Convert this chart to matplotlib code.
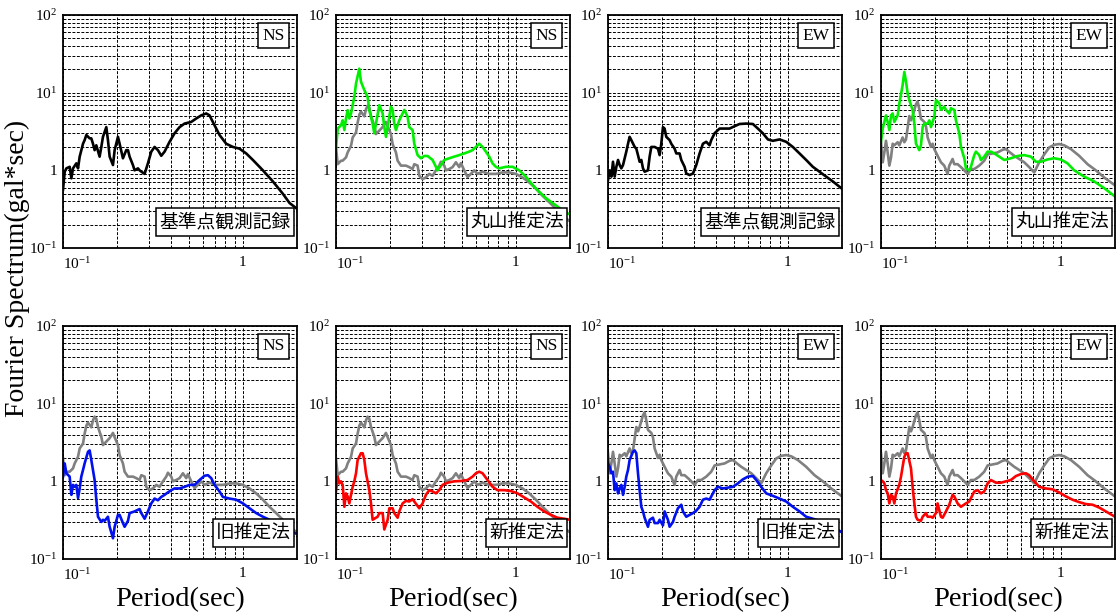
import matplotlib
matplotlib.use('Agg')
import matplotlib.pyplot as plt
from matplotlib.ticker import LogLocator, NullFormatter

plt.rcParams['font.family'] = ['Liberation Serif', 'DejaVu Serif']
plt.rcParams['mathtext.fontset'] = 'custom'
plt.rcParams['mathtext.rm'] = 'Liberation Serif'
plt.rcParams['mathtext.it'] = 'Liberation Serif:italic'
plt.rcParams['mathtext.bf'] = 'Liberation Serif:bold'

# ---------------- data (period [sec], Fourier spectrum [gal*sec]) ----------------
rec_ns_T = [0.1000, 0.1022, 0.1044, 0.1089, 0.1113, 0.1137, 0.1186, 0.1212, 0.1238, 0.1292,
            0.1319, 0.1348, 0.1407, 0.1437, 0.1468, 0.1499, 0.1532, 0.1598, 0.1633, 0.1668,
            0.1741, 0.1778, 0.1817, 0.1896, 0.1937, 0.2021, 0.2064, 0.2154, 0.2248, 0.2297,
            0.2346, 0.2448, 0.2501, 0.2610, 0.2666, 0.2783, 0.2843, 0.2966, 0.3096, 0.3230,
            0.3371, 0.3518, 0.3671, 0.3914, 0.4172, 0.4448, 0.4742, 0.5164, 0.5505, 0.5868,
            0.6256, 0.6529, 0.6960, 0.7419, 0.8080, 0.8799, 0.9583, 1.044, 1.137, 1.292,
            1.468, 1.668, 1.817, 2.0]
rec_ns_A = [0.56, 0.96, 1.06, 1.11, 0.79, 1.06, 1.23, 1.06, 1.5, 2.2,
            2.45, 2.85, 2.58, 2.58, 2.2, 1.82, 2.1, 1.5, 2.0, 2.7,
            3.6, 2.45, 1.5, 1.17, 1.82, 2.7, 2.2, 1.43, 1.82, 1.82,
            1.5, 1.17, 1.0, 1.06, 1.0, 0.93, 0.9, 1.23, 1.74, 2.0,
            1.82, 1.54, 1.74, 2.33, 3.0, 3.6, 4.0, 4.2, 4.65, 5.1,
            5.4, 5.1, 3.8, 2.85, 2.2, 2.0, 1.9, 1.65, 1.36, 1.0,
            0.72, 0.5, 0.38, 0.32]

rec_ew_T = [0.1000, 0.1022, 0.1044, 0.1066, 0.1089, 0.1113, 0.1137, 0.1161, 0.1186, 0.1212,
            0.1264, 0.1292, 0.1319, 0.1348, 0.1407, 0.1437, 0.1468, 0.1499, 0.1532, 0.1565,
            0.1598, 0.1668, 0.1704, 0.1741, 0.1817, 0.1896, 0.1937, 0.1978, 0.2021, 0.2064,
            0.2109, 0.2201, 0.2248, 0.2346, 0.2397, 0.2501, 0.2555, 0.2666, 0.2724, 0.2843,
            0.2966, 0.3096, 0.3230, 0.3371, 0.3518, 0.3671, 0.3750, 0.3914, 0.4172, 0.4448,
            0.4742, 0.5055, 0.5389, 0.5868, 0.6391, 0.6813, 0.7263, 0.7743, 0.8254, 0.8989,
            0.9789, 1.066, 1.161, 1.264, 1.377, 1.499, 1.633, 1.778, 2.0]
rec_ew_A = [0.75, 1.0, 0.83, 1.29, 0.83, 1.11, 1.36, 1.17, 1.06, 1.17,
            1.74, 2.2, 2.7, 2.45, 2.0, 1.9, 1.57, 1.29, 1.36, 1.06,
            0.96, 1.0, 1.5, 2.0, 2.0, 1.9, 1.57, 2.2, 3.6, 3.45,
            2.7, 2.45, 2.2, 1.9, 1.65, 1.65, 1.36, 1.11, 0.91, 0.87,
            0.91, 1.17, 1.65, 2.2, 2.33, 2.1, 2.45, 3.0, 3.45, 3.45,
            3.45, 3.7, 3.95, 4.0, 3.95, 3.45, 3.0, 2.5, 2.4, 2.5,
            2.33, 2.0, 1.65, 1.36, 1.11, 0.96, 0.83, 0.72, 0.58]

gray_ns_T = [0.1000, 0.1022, 0.1066, 0.1089, 0.1137, 0.1161, 0.1212, 0.1238, 0.1292, 0.1319,
             0.1348, 0.1377, 0.1437, 0.1468, 0.1499, 0.1532, 0.1565, 0.1633, 0.1668, 0.1741,
             0.1817, 0.1896, 0.1937, 0.2021, 0.2064, 0.2154, 0.2201, 0.2297, 0.2448, 0.2555,
             0.2666, 0.2724, 0.2843, 0.2904, 0.3030, 0.3162, 0.3300, 0.3444, 0.3594, 0.3750,
             0.3831, 0.3998, 0.4084, 0.4262, 0.4448, 0.4642, 0.4844, 0.4948, 0.5164, 0.5389,
             0.5623, 0.5868, 0.6124, 0.6529, 0.7110, 0.7743, 0.8432, 0.9183, 1.0, 1.089,
             1.186, 1.292, 1.407, 1.532, 1.668, 1.817, 2.0]
gray_ns_A = [1.97, 1.2, 1.33, 1.33, 1.47, 1.7, 2.07, 2.65, 3.07, 4.1,
             5.2, 5.7, 4.96, 6.1, 6.8, 6.4, 5.0, 3.75, 2.93, 3.25,
             3.6, 4.2, 3.7, 2.93, 2.18, 1.7, 1.33, 1.15, 1.15, 1.1,
             1.04, 1.2, 1.15, 0.85, 0.77, 0.81, 0.9, 0.85, 1.0, 1.15,
             1.29, 1.15, 1.0, 1.04, 1.1, 1.27, 1.1, 1.24, 1.0, 0.82,
             0.9, 1.0, 0.9, 0.96, 0.9, 0.9, 0.94, 0.94, 0.9, 0.81,
             0.7, 0.58, 0.47, 0.39, 0.32, 0.26, 0.22]

gray_ew_T = [0.1000, 0.1022, 0.1044, 0.1066, 0.1089, 0.1113, 0.1137, 0.1161, 0.1186, 0.1212,
             0.1238, 0.1264, 0.1319, 0.1348, 0.1377, 0.1437, 0.1468, 0.1499, 0.1565, 0.1598,
             0.1633, 0.1668, 0.1741, 0.1778, 0.1817, 0.1896, 0.1937, 0.1978, 0.2064, 0.2154,
             0.2248, 0.2346, 0.2397, 0.2501, 0.2555, 0.2666, 0.2783, 0.2904, 0.3030, 0.3162,
             0.3300, 0.3518, 0.3750, 0.3914, 0.4172, 0.4448, 0.4742, 0.4948, 0.5164, 0.5505,
             0.5868, 0.6256, 0.6669, 0.7110, 0.7579, 0.8080, 0.8614, 0.9183, 0.9789, 1.044,
             1.137, 1.264, 1.407, 1.565, 1.741, 2.0]
gray_ew_A = [2.3, 1.27, 1.7, 2.4, 1.7, 1.15, 1.47, 2.2, 2.1, 2.2,
             2.3, 2.1, 2.65, 2.3, 2.5, 5.0, 4.4, 5.0, 7.1, 7.7,
             6.1, 4.6, 4.2, 3.7, 2.65, 2.0, 2.2, 1.88, 1.54, 1.27,
             1.15, 0.9, 1.15, 1.4, 1.2, 1.2, 1.1, 1.0, 0.9, 1.04,
             1.04, 1.15, 1.33, 1.6, 1.65, 1.7, 1.84, 1.88, 1.73, 1.54,
             1.4, 1.27, 1.1, 0.94, 1.27, 1.6, 1.97, 2.13, 2.18, 2.1,
             1.88, 1.54, 1.2, 1.0, 0.81, 0.64]

maru_ns_T = [0.1000, 0.1022, 0.1066, 0.1089, 0.1113, 0.1137, 0.1161, 0.1186, 0.1212, 0.1264,
             0.1292, 0.1348, 0.1377, 0.1437, 0.1499, 0.1532, 0.1598, 0.1633, 0.1668, 0.1741,
             0.1817, 0.1856, 0.1896, 0.1978, 0.2021, 0.2064, 0.2109, 0.2154, 0.2248, 0.2346,
             0.2397, 0.2501, 0.2555, 0.2666, 0.2724, 0.2843, 0.2966, 0.3096, 0.3230, 0.3444,
             0.3594, 0.3671, 0.3831, 0.3998, 0.4262, 0.4544, 0.4844, 0.5164, 0.5505, 0.5745,
             0.5995, 0.6256, 0.6529, 0.6813, 0.7110, 0.7419, 0.7743, 0.8080, 0.8799, 0.9583,
             1.044, 1.137, 1.238, 1.348, 1.468, 1.598, 1.741, 1.856, 2.0]
maru_ns_A = [1.9, 3.45, 3.8, 4.4, 3.3, 4.65, 5.95, 4.65, 5.4, 8.8,
             13.1, 20.4, 13.8, 10.8, 8.8, 5.95, 4.0, 3.0, 4.0, 6.9,
             5.4, 3.6, 2.7, 4.9, 6.6, 6.0, 4.0, 3.3, 4.4, 5.4,
             6.0, 4.9, 3.6, 3.3, 2.2, 1.57, 1.43, 1.53, 1.53, 1.36,
             1.11, 1.0, 1.17, 1.36, 1.43, 1.5, 1.57, 1.65, 1.74, 1.82,
             2.0, 2.2, 2.0, 1.74, 1.5, 1.23, 1.11, 1.06, 1.11, 1.11,
             1.0, 0.83, 0.65, 0.53, 0.44, 0.38, 0.33, 0.295, 0.27]

maru_ew_T = [0.1000, 0.1022, 0.1066, 0.1089, 0.1113, 0.1137, 0.1161, 0.1186, 0.1238, 0.1264,
             0.1319, 0.1348, 0.1377, 0.1407, 0.1437, 0.1499, 0.1532, 0.1565, 0.1633, 0.1668,
             0.1704, 0.1741, 0.1817, 0.1856, 0.1896, 0.1978, 0.2021, 0.2109, 0.2154, 0.2248,
             0.2297, 0.2397, 0.2448, 0.2555, 0.2610, 0.2724, 0.2783, 0.2904, 0.2966, 0.3096,
             0.3162, 0.3300, 0.3371, 0.3518, 0.3594, 0.3750, 0.3914, 0.4084, 0.4262, 0.4544,
             0.4844, 0.5275, 0.5745, 0.6256, 0.6813, 0.7263, 0.7743, 0.8432, 0.9183, 1.0,
             1.089, 1.186, 1.348, 1.532, 1.741, 2.0]
maru_ew_A = [2.33, 3.45, 5.1, 4.2, 3.3, 5.1, 5.4, 4.2, 5.1, 7.2,
             12.5, 18.5, 14.0, 9.7, 8.0, 6.0, 4.0, 2.2, 1.82, 2.1,
             3.6, 4.0, 4.0, 4.4, 3.6, 4.9, 8.0, 7.3, 6.0, 6.6,
             6.0, 5.4, 6.3, 6.0, 4.4, 3.0, 2.0, 1.43, 1.06, 1.0,
             1.11, 1.57, 1.74, 1.57, 1.36, 1.5, 1.74, 1.74, 1.65, 1.5,
             1.36, 1.43, 1.53, 1.57, 1.5, 1.29, 1.29, 1.38, 1.43, 1.38,
             1.23, 1.0, 0.83, 0.72, 0.59, 0.46]

old_ns_T = [0.1000, 0.1022, 0.1044, 0.1089, 0.1113, 0.1137, 0.1161, 0.1186, 0.1212, 0.1238,
            0.1264, 0.1292, 0.1319, 0.1377, 0.1407, 0.1437, 0.1499, 0.1532, 0.1565, 0.1633,
            0.1668, 0.1704, 0.1778, 0.1817, 0.1896, 0.1937, 0.2021, 0.2064, 0.2154, 0.2201,
            0.2297, 0.2346, 0.2501, 0.2666, 0.2724, 0.2843, 0.2966, 0.3096, 0.3230, 0.3371,
            0.3518, 0.3671, 0.3831, 0.3998, 0.4172, 0.4448, 0.4742, 0.5055, 0.5389, 0.5745,
            0.6124, 0.6391, 0.6669, 0.6960, 0.7419, 0.7743, 0.8432, 0.9183, 1.0, 1.089,
            1.186, 1.292, 1.407, 1.598, 1.817, 2.0]
old_ns_A = [1.15, 1.7, 1.27, 1.15, 0.67, 0.9, 0.85, 0.9, 0.61, 0.81,
            1.15, 1.4, 1.7, 2.4, 2.5, 1.88, 1.04, 0.58, 0.35, 0.3,
            0.32, 0.31, 0.35, 0.26, 0.185, 0.26, 0.37, 0.37, 0.29, 0.26,
            0.31, 0.39, 0.41, 0.44, 0.39, 0.33, 0.41, 0.52, 0.6, 0.57,
            0.63, 0.67, 0.72, 0.77, 0.81, 0.81, 0.85, 0.9, 0.9, 1.04,
            1.18, 1.2, 1.1, 0.9, 0.74, 0.63, 0.6, 0.58, 0.52, 0.45,
            0.39, 0.35, 0.32, 0.26, 0.23, 0.21]

new_ns_T = [0.1000, 0.1022, 0.1044, 0.1066, 0.1089, 0.1113, 0.1137, 0.1161, 0.1186, 0.1212,
            0.1238, 0.1264, 0.1292, 0.1319, 0.1377, 0.1407, 0.1437, 0.1468, 0.1532, 0.1565,
            0.1598, 0.1668, 0.1704, 0.1741, 0.1817, 0.1856, 0.1937, 0.1978, 0.2064, 0.2109,
            0.2201, 0.2248, 0.2346, 0.2448, 0.2555, 0.2666, 0.2724, 0.2904, 0.3030, 0.3162,
            0.3300, 0.3444, 0.3594, 0.3750, 0.3914, 0.4172, 0.4544, 0.4948, 0.5389, 0.5745,
            0.5995, 0.6256, 0.6529, 0.6960, 0.7419, 0.7909, 0.8614, 0.9380, 1.022, 1.113,
            1.212, 1.319, 1.437, 1.565, 1.704, 1.856, 2.0]
new_ns_A = [0.74, 1.15, 0.94, 1.0, 0.9, 0.47, 0.7, 0.64, 0.52, 0.67,
            0.85, 1.0, 1.27, 1.88, 2.3, 2.3, 1.88, 1.27, 0.77, 0.52,
            0.32, 0.34, 0.35, 0.39, 0.39, 0.24, 0.32, 0.45, 0.45, 0.39,
            0.34, 0.41, 0.52, 0.56, 0.55, 0.59, 0.55, 0.45, 0.52, 0.67,
            0.77, 0.74, 0.7, 0.77, 0.9, 0.96, 1.0, 1.01, 1.04, 1.15,
            1.27, 1.33, 1.27, 1.04, 0.85, 0.77, 0.77, 0.75, 0.7, 0.62,
            0.55, 0.47, 0.41, 0.37, 0.34, 0.33, 0.32]

old_ew_T = [0.1000, 0.1022, 0.1044, 0.1066, 0.1089, 0.1113, 0.1137, 0.1161, 0.1186, 0.1212,
            0.1238, 0.1264, 0.1292, 0.1319, 0.1377, 0.1407, 0.1437, 0.1468, 0.1499, 0.1532,
            0.1565, 0.1598, 0.1668, 0.1704, 0.1778, 0.1817, 0.1896, 0.1937, 0.2021, 0.2064,
            0.2154, 0.2201, 0.2297, 0.2346, 0.2448, 0.2555, 0.2610, 0.2724, 0.2843, 0.2966,
            0.3096, 0.3230, 0.3371, 0.3518, 0.3671, 0.3831, 0.3914, 0.4084, 0.4354, 0.4642,
            0.4948, 0.5275, 0.5623, 0.5995, 0.6391, 0.6669, 0.7110, 0.7579, 0.8254, 0.8989,
            0.9789, 1.066, 1.161, 1.264, 1.377, 1.565, 1.778, 2.0]
old_ew_A = [1.7, 1.54, 1.27, 1.33, 0.77, 0.94, 0.7, 0.81, 0.9, 0.67,
            0.85, 1.15, 1.4, 1.88, 2.4, 2.5, 2.3, 1.27, 0.77, 0.47,
            0.41, 0.34, 0.26, 0.32, 0.34, 0.29, 0.29, 0.32, 0.27, 0.41,
            0.32, 0.26, 0.3, 0.35, 0.45, 0.5, 0.41, 0.35, 0.37, 0.39,
            0.42, 0.47, 0.58, 0.6, 0.58, 0.7, 0.77, 0.85, 0.81, 0.83,
            0.85, 0.94, 1.06, 1.15, 1.17, 1.04, 0.85, 0.7, 0.65, 0.6,
            0.55, 0.47, 0.41, 0.35, 0.33, 0.3, 0.26, 0.22]

new_ew_T = [0.1000, 0.1022, 0.1044, 0.1066, 0.1089, 0.1113, 0.1137, 0.1161, 0.1186, 0.1212,
            0.1264, 0.1292, 0.1319, 0.1348, 0.1377, 0.1407, 0.1468, 0.1499, 0.1532, 0.1565,
            0.1598, 0.1668, 0.1704, 0.1778, 0.1817, 0.1896, 0.1937, 0.2021, 0.2064, 0.2154,
            0.2201, 0.2297, 0.2397, 0.2501, 0.2555, 0.2666, 0.2783, 0.2966, 0.3096, 0.3300,
            0.3444, 0.3594, 0.3750, 0.3914, 0.4084, 0.4354, 0.4642, 0.4948, 0.5275, 0.5623,
            0.5995, 0.6391, 0.6669, 0.7110, 0.7579, 0.8254, 0.8989, 0.9789, 1.066, 1.161,
            1.264, 1.377, 1.499, 1.633, 1.778, 2.0]
new_ew_A = [1.04, 1.0, 0.94, 0.77, 0.7, 0.52, 0.67, 0.64, 0.52, 0.7,
            0.9, 1.15, 1.54, 2.07, 2.3, 2.3, 1.47, 0.85, 0.52, 0.35,
            0.32, 0.31, 0.35, 0.39, 0.35, 0.35, 0.34, 0.39, 0.52, 0.35,
            0.34, 0.41, 0.5, 0.67, 0.64, 0.52, 0.47, 0.52, 0.55, 0.74,
            0.77, 0.7, 0.74, 0.94, 1.04, 0.96, 0.96, 1.0, 1.04, 1.17,
            1.24, 1.27, 1.2, 1.0, 0.85, 0.81, 0.79, 0.72, 0.64, 0.58,
            0.54, 0.51, 0.5, 0.46, 0.41, 0.35]

components = ['NS', 'NS', 'EW', 'EW', 'NS', 'NS', 'EW', 'EW']
methods = ['基準点観測記録', '丸山推定法', '基準点観測記録', '丸山推定法',
           '旧推定法', '新推定法', '旧推定法', '新推定法']

C_BLACK, C_GRAY, C_GREEN, C_BLUE, C_RED = '#000000', '#808080', '#00ee00', '#0010ee', '#ff0000'

panels = [
    [(rec_ns_T, rec_ns_A, C_BLACK)],
    [(gray_ns_T, gray_ns_A, C_GRAY), (maru_ns_T, maru_ns_A, C_GREEN)],
    [(rec_ew_T, rec_ew_A, C_BLACK)],
    [(gray_ew_T, gray_ew_A, C_GRAY), (maru_ew_T, maru_ew_A, C_GREEN)],
    [(gray_ns_T, gray_ns_A, C_GRAY), (old_ns_T, old_ns_A, C_BLUE)],
    [(gray_ns_T, gray_ns_A, C_GRAY), (new_ns_T, new_ns_A, C_RED)],
    [(gray_ew_T, gray_ew_A, C_GRAY), (old_ew_T, old_ew_A, C_BLUE)],
    [(gray_ew_T, gray_ew_A, C_GRAY), (new_ew_T, new_ew_A, C_RED)],
]

# ---------------- layout ----------------
W, H = 1116, 614
fig = plt.figure(figsize=(W / 100, H / 100), dpi=100)
col_left = [63, 336, 608, 881]
row_top = [15, 326]
aw, ah = 234, 233

cjk = ['Noto Sans CJK JP', 'DejaVu Sans']

for i, curves in enumerate(panels):
    r, c = divmod(i, 4)
    ax = fig.add_axes([col_left[c] / W, (H - row_top[r] - ah) / H, aw / W, ah / H])
    ax.set_xscale('log')
    ax.set_yscale('log')
    for T, A, col in curves:
        ax.plot(T, A, color=col, lw=1.9, solid_joinstyle='round', zorder=3)
    ax.set_xlim(0.1, 2.0)
    ax.set_ylim(0.1, 100)
    ax.xaxis.set_minor_locator(LogLocator(base=10, subs=range(2, 10)))
    ax.yaxis.set_minor_locator(LogLocator(base=10, subs=range(2, 10)))
    ax.xaxis.set_minor_formatter(NullFormatter())
    ax.yaxis.set_minor_formatter(NullFormatter())
    ax.set_xticks([0.1, 1])
    ax.set_xticklabels([r'$\mathregular{10^{-1}}$', '1'])
    ax.set_yticks([0.1, 1, 10, 100])
    ax.set_yticklabels([r'$\mathregular{10^{-1}}$', '1', r'$\mathregular{10^{1}}$', r'$\mathregular{10^{2}}$'])
    ax.xaxis.get_majorticklabels()[0].set_horizontalalignment('left')
    ax.tick_params(which='both', length=0, labelsize=11, pad=6)
    ax.tick_params(axis='y', pad=4)
    ax.grid(True, which='both', color='black', linestyle=(0, (3, 1.6)), linewidth=0.7)
    ax.set_axisbelow(True)
    for s in ax.spines.values():
        s.set_linewidth(1.3)
        s.set_zorder(5)
    # component label (top right)
    ax.text(1 - 12.5 / aw, 1 - 12.5 / ah, components[i], transform=ax.transAxes,
            ha='right', va='top', fontsize=12.5, zorder=6,
            bbox=dict(boxstyle='square,pad=0.25', fc='white', ec='black', lw=1.1))
    # method label (bottom right)
    ax.text(1 - 6 / aw, 15.5 / ah, methods[i], transform=ax.transAxes,
            ha='right', va='bottom', fontsize=13.5, family=cjk, zorder=6,
            bbox=dict(boxstyle='square,pad=0.18', fc='white', ec='black', lw=1.1))
    if r == 1:
        ax.set_xlabel('Period(sec)', fontsize=20.5, labelpad=3)

fig.text(17 / W, 1 - 268 / H, 'Fourier Spectrum(gal*sec)', rotation=90,
         ha='center', va='center', fontsize=20)

fig.savefig('out.png', dpi=100)
